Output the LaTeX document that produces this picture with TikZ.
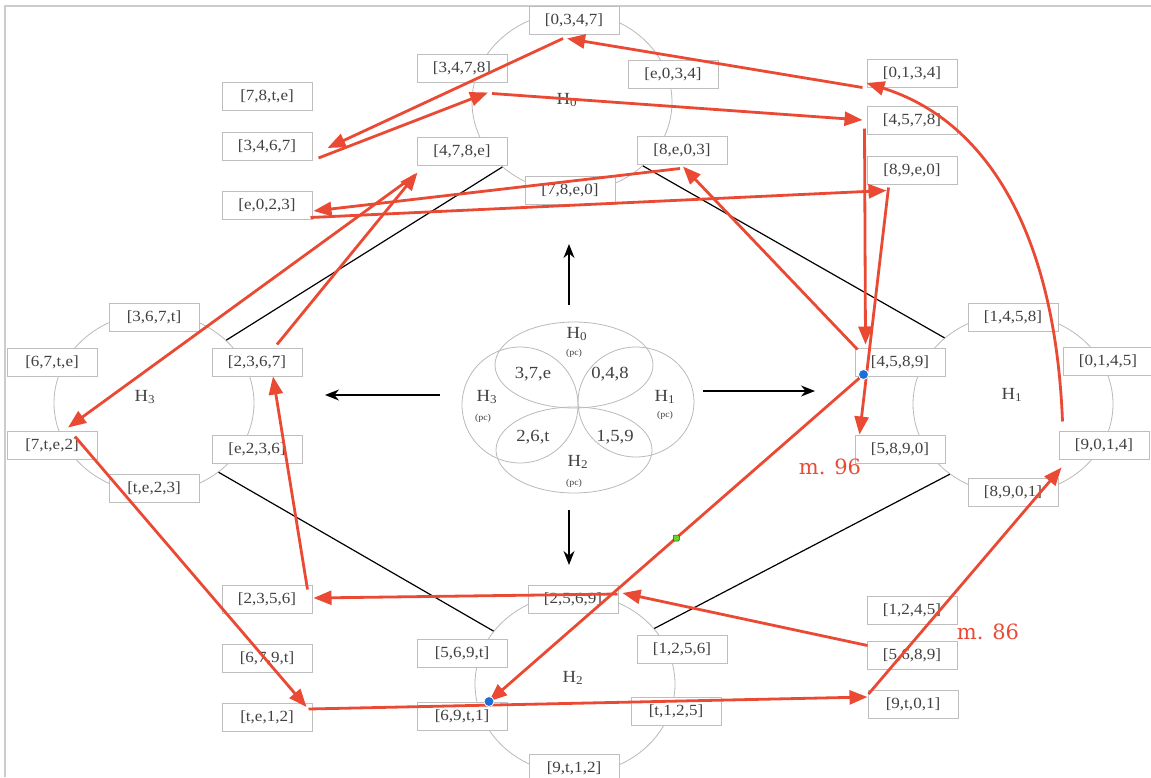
\documentclass[tikz,border=0pt]{standalone}
\usepackage{fontspec}
\setmainfont{Liberation Serif}[FakeStretch=1.1]
\newfontfamily\notefont{DejaVu Serif}
\usetikzlibrary{arrows.meta,calc,shapes.geometric}
\definecolor{hexred}{RGB}{234,74,52}
\definecolor{boxline}{RGB}{190,190,190}
\definecolor{ringline}{RGB}{185,185,185}
\definecolor{labelgray}{RGB}{65,65,65}
\definecolor{dotblue}{RGB}{30,110,215}
\definecolor{dotgreen}{RGB}{110,210,40}

\begin{document}
\begin{tikzpicture}[
  x=1pt, y=-1pt,
  hexbox/.style={draw=boxline, line width=1pt, fill=white, minimum width=90pt,
    minimum height=28pt, inner sep=0pt, text=labelgray, font=\fontsize{15.5}{17}\selectfont},
  ring/.style={ellipse, draw=ringline, line width=0.8pt, minimum width=200pt,
    minimum height=180pt, inner sep=0pt},
  petal/.style={draw=ringline, line width=0.8pt},
  hlbl/.style={text=labelgray, font=\fontsize{17}{19}\selectfont, inner sep=0pt},
  pc/.style={text=labelgray, font=\fontsize{9}{10}\selectfont, inner sep=0pt},
  link/.style={black, line width=1.2pt},
  move/.style={-{Stealth[length=14pt,width=11pt]}, black, line width=1.4pt},
  walk/.style={-{Triangle[length=18pt,width=14pt]}, hexred, line width=2.8pt},
  mlbl/.style={text=hexred, font=\notefont\fontsize{21}{24}\selectfont, inner sep=0pt},
]
  \useasboundingbox (0,0) rectangle (1151,777);
  \draw[gray!40, line width=2.5pt] (5,777) -- (5,6) -- (1151,6);

  % Rings of the four hexachords
  \node[ring] (H0e) at (572,102) {};
  \node[ring] (H1e) at (1013,404) {};
  \node[ring] (H2e) at (575,684) {};
  \node[ring] (H3e) at (154,403) {};
  \node[hlbl] (H0l) at (567,100) {H\textsubscript{0}};
  \node[hlbl] (H1l) at (1012,395) {H\textsubscript{1}};
  \node[hlbl] (H2l) at (573,678) {H\textsubscript{2}};
  \node[hlbl] (H3l) at (145,397) {H\textsubscript{3}};

  \draw[link] (H0e.223) -- (H3e.41);
  \draw[link] (H0e.-42) -- (H1e.136);
  \draw[link] (H3e.-47) -- (H2e.147);
  \draw[link] (H2e.35) -- (H1e.228);

  % Central flower
  \draw[petal] (574,365) ellipse [x radius=79pt, y radius=43pt];
  \draw[petal] (574,450) ellipse [x radius=78pt, y radius=43pt];
  \draw[petal] (520,405) ellipse [x radius=58pt, y radius=58pt];
  \draw[petal] (636,402) ellipse [x radius=58pt, y radius=55pt];
  \node[hlbl] (f0) at (577,334) {H\textsubscript{0}};
  \node[pc] (f0pc) at (574,353) {(pc)};
  \node[hlbl] (f1) at (665,397) {H\textsubscript{1}};
  \node[pc] (f1pc) at (665,415) {(pc)};
  \node[hlbl] (f2) at (578,462) {H\textsubscript{2}};
  \node[pc] (f2pc) at (574,483) {(pc)};
  \node[hlbl] (f3) at (487,397) {H\textsubscript{3}};
  \node[pc] (f3pc) at (483,418) {(pc)};
  \node[hlbl] (c37e) at (533,374) {3,7,e};
  \node[hlbl] (c048) at (610,374) {0,4,8};
  \node[hlbl] (c26t) at (533,437) {2,6,t};
  \node[hlbl] (c159) at (615,437) {1,5,9};

  \coordinate (mid) at (572,400);
  \draw[move] ($(mid)+(-3,-95)$) -- ($(mid)+(-3,-156)$);
  \draw[move] ($(mid)+(-132,-5)$) -- ($(mid)+(-247,-5)$);
  \draw[move] ($(mid)+(131,-9)$) -- ($(mid)+(243,-9)$);
  \draw[move] ($(mid)+(-3,110)$) -- ($(mid)+(-3,165)$);

  % Tetrachords
  \node[hexbox] (s0347) at (574,20)  {[0,3,4,7]};
  \node[hexbox] (s3478) at (462,68)  {[3,4,7,8]};
  \node[hexbox] (se034) at (673,74)  {[e,0,3,4]};
  \node[hexbox] (s478e) at (462,151) {[4,7,8,e]};
  \node[hexbox] (s8e03) at (682,150) {[8,e,0,3]};
  \node[hexbox] (s78e0) at (570,190) {[7,8,e,0]};
  \node[hexbox] (s78te) at (267,96)  {[7,8,t,e]};
  \node[hexbox] (s3467) at (267,146) {[3,4,6,7]};
  \node[hexbox] (se023) at (267,205) {[e,0,2,3]};
  \node[hexbox] (s0134) at (912,73)  {[0,1,3,4]};
  \node[hexbox] (s4578) at (912,120) {[4,5,7,8]};
  \node[hexbox] (s89e0) at (912,170) {[8,9,e,0]};

  \node[hexbox] (s1458) at (1013,317) {[1,4,5,8]};
  \node[hexbox] (s0145) at (1108,361) {[0,1,4,5]};
  \node[hexbox] (s4589) at (900,362)  {[4,5,8,9]};
  \node[hexbox] (s5890) at (900,449)  {[5,8,9,0]};
  \node[hexbox] (s9014) at (1104,445) {[9,0,1,4]};
  \node[hexbox] (s8901) at (1013,492) {[8,9,0,1]};

  \node[hexbox] (s367t) at (154,317) {[3,6,7,t]};
  \node[hexbox] (s67te) at (52,362)  {[6,7,t,e]};
  \node[hexbox] (s2367) at (257,362) {[2,3,6,7]};
  \node[hexbox] (s7te2) at (52,445)  {[7,t,e,2]};
  \node[hexbox] (se236) at (257,449) {[e,2,3,6]};
  \node[hexbox] (ste23) at (154,488) {[t,e,2,3]};

  \node[hexbox] (s2356) at (267,599) {[2,3,5,6]};
  \node[hexbox] (s2569) at (573,599) {[2,5,6,9]};
  \node[hexbox] (s569t) at (462,653) {[5,6,9,t]};
  \node[hexbox] (s679t) at (267,658) {[6,7,9,t]};
  \node[hexbox] (ste12) at (267,717) {[t,e,1,2]};
  \node[hexbox] (s69t1) at (462,716) {[6,9,t,1]};
  \node[hexbox] (s9t12) at (574,768) {[9,t,1,2]};
  \node[hexbox] (s1256) at (682,649) {[1,2,5,6]};
  \node[hexbox] (st125) at (676,711) {[t,1,2,5]};
  \node[hexbox] (s1245) at (912,610) {[1,2,4,5]};
  \node[hexbox] (s5689) at (912,655) {[5,6,8,9]};
  \node[hexbox] (s9t01) at (913,704) {[9,t,0,1]};

  % Red walk
  \draw[walk] ($(s0134.south west)+(-4,0)$) -- ($(s0347.south)+(-7,4)$);
  \draw[walk] ($(s0347.south)+(-11,4)$) -- ($(s3467.east)+(15,2)$);
  \draw[walk] ($(s3467.east)+(6,12)$) -- ($(s3478.south)+(26,10)$);
  \draw[walk] ($(s3478.south)+(30,11)$) -- ($(s4578.west)+(-4,0)$);
  \draw[walk] ($(s4578.south west)+(-2,-6)$) -- ($(s4589.north west)+(11,-3)$);
  \draw[walk] ($(s89e0.south west)+(22,3)$) -- ($(s5890.north west)+(5,0)$);
  \draw[walk] ($(s4589.north west)+(3,2)$) -- ($(s8e03.south)+(1,2)$);
  \draw[walk] ($(s8e03.south)+(-2,4)$) -- ($(se023.east)+(1,6)$);
  \draw[walk] ($(se023.south east)+(-2,-2)$) -- ($(s89e0.south west)+(20,6)$);
  \coordinate (d1) at ($(s4589.south west)+(9,-2)$);
  \coordinate (d2) at ($(s69t1.north)+(27,0)$);
  \draw[walk] (d1) -- (d2);
  \draw[walk] ($(s5689.north west)+(1,5)$) -- ($(s2569.east)+(4,-6)$);
  \draw[walk] ($(s2569.east)+(-1,-5)$) -- ($(s2356.east)+(1,-1)$);
  \draw[walk] ($(s2356.north east)+(-5,5)$) -- ($(s2367.south)+(16,0)$);
  \draw[walk] ($(s2367.north)+(20,-3)$) -- ($(s478e.south west)+(1,7)$);
  \draw[walk] ($(s478e.south west)+(-2,10)$) -- ($(s7te2.north)+(16,-3)$);
  \draw[walk] ($(s7te2.north)+(23,6)$) -- ($(ste12.east)+(-6,-10)$);
  \draw[walk] ($(ste12.east)+(-4,-8)$) -- ($(s9t01.west)+(0,-7)$);
  \draw[walk] ($(s9t01.west)+(1,-10)$) -- ($(s9014.south west)+(3,8)$);
  \draw[walk] ($(s9014.north west)+(4,-9)$)
    .. controls (1055,230) and (985,120) .. ($(s0134.west)+(0,10)$);

  \filldraw[fill=dotblue, draw=white, line width=0.8pt] (d1) circle (5pt);
  \filldraw[fill=dotblue, draw=white, line width=0.8pt] (d2) circle (5pt);
  \coordinate (gm) at ($(d1)!0.5!(d2)$);
  \filldraw[fill=dotgreen, draw=green!40!black, line width=0.5pt, rounded corners=1pt]
    ($(gm)+(-3,-3)$) rectangle ($(gm)+(3,3)$);

  \node[mlbl] (m96) at (830,467) {m. 96};
  \node[mlbl] (m86) at (988,632) {m. 86};
\end{tikzpicture}
\end{document}
